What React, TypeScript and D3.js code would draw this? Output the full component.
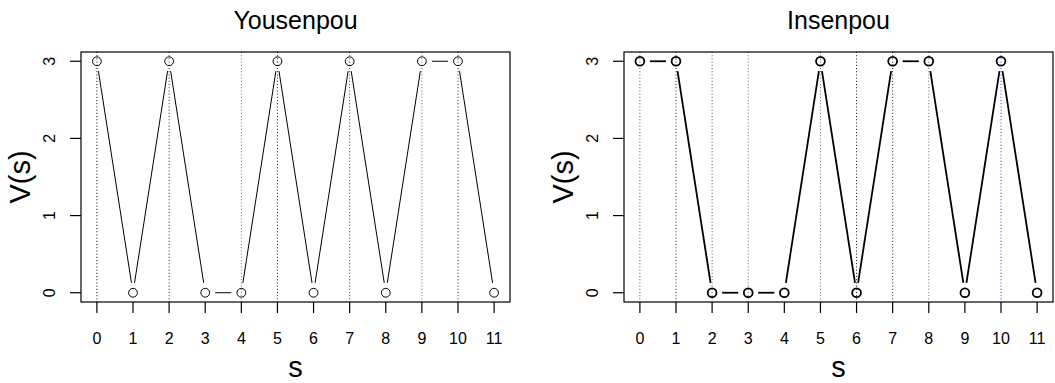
import React from "react";
import * as d3 from "d3";

// State indices and value function for each policy
const states = [0, 1, 2, 3, 4, 5, 6, 7, 8, 9, 10, 11];
const yousenpouValues = [3, 0, 3, 0, 0, 3, 0, 3, 0, 3, 3, 0];
const insenpouValues = [3, 3, 0, 0, 0, 3, 0, 3, 3, 0, 3, 0];
const yTicks = [0, 1, 2, 3];

// Dotted reference verticals per panel
const yousenpouGuides = [0, 2, 4, 5, 7, 9, 10];
const yousenpouGuideColors = ["#000", "#222", "#666", "#111", "#333", "#666", "#222"];
const insenpouGuides = [0, 1, 2, 3, 5, 6, 7, 8, 10];
const insenpouGuideColors = ["#555", "#111", "#555", "#666", "#666", "#111", "#111", "#666", "#3333ff"];

const W = 1055;
const H = 383;
const FONT = "'Liberation Sans', Arial, Helvetica, sans-serif";

type PanelProps = {
  title: string;
  values: number[];
  guides: number[];
  guideColors: string[];
  left: number;
  right: number;
  lw: number;
};

function Panel({ title, values, guides, guideColors, left, right, lw }: PanelProps) {
  const top = 52;
  const bottom = 302;
  const x = d3.scaleLinear().domain([-0.44, 11.44]).range([left, right]);
  const y = d3.scaleLinear().domain([-0.12, 3.12]).range([bottom, top]);
  const gap = 10;
  const r = 4.4;
  const tick = 11;

  // type="b": segments between points, trimmed around each marker
  const segs: { x1: number; y1: number; x2: number; y2: number }[] = [];
  for (let i = 0; i < states.length - 1; i++) {
    const ax = x(states[i]);
    const ay = y(values[i]);
    const bx = x(states[i + 1]);
    const by = y(values[i + 1]);
    const len = Math.hypot(bx - ax, by - ay);
    if (len <= 2 * gap) continue;
    const ux = (bx - ax) / len;
    const uy = (by - ay) / len;
    segs.push({ x1: ax + ux * gap, y1: ay + uy * gap, x2: bx - ux * gap, y2: by - uy * gap });
  }

  const cx = (left + right) / 2;
  const cy = (top + bottom) / 2;

  return (
    <g>
      {guides.map((g, i) => (
        <line
          key={"g" + i}
          x1={x(g)}
          x2={x(g)}
          y1={top}
          y2={bottom}
          stroke={guideColors[i]}
          strokeWidth={1}
          strokeDasharray="1,2.2"
        />
      ))}
      {segs.map((s, i) => (
        <line key={"s" + i} x1={s.x1} y1={s.y1} x2={s.x2} y2={s.y2} stroke="#000" strokeWidth={lw} />
      ))}
      {states.map((s, i) => (
        <circle key={"c" + i} cx={x(s)} cy={y(values[i])} r={r} fill="none" stroke="#000" strokeWidth={lw} />
      ))}
      <rect x={left} y={top} width={right - left} height={bottom - top} fill="none" stroke="#000" strokeWidth={1.2} />
      {states.map((s) => (
        <g key={"xt" + s}>
          <line x1={x(s)} x2={x(s)} y1={bottom} y2={bottom + tick} stroke="#000" strokeWidth={1.2} />
          <text x={x(s)} y={344} textAnchor="middle" fontFamily={FONT} fontSize={16}>
            {s}
          </text>
        </g>
      ))}
      {yTicks.map((t) => (
        <g key={"yt" + t}>
          <line x1={left - tick} x2={left} y1={y(t)} y2={y(t)} stroke="#000" strokeWidth={1.2} />
          <text
            transform={`translate(${left - 26},${y(t)}) rotate(-90)`}
            textAnchor="middle"
            fontFamily={FONT}
            fontSize={16}
          >
            {t}
          </text>
        </g>
      ))}
      <text x={cx} y={29} textAnchor="middle" fontFamily={FONT} fontSize={25}>
        {title}
      </text>
      <text x={cx} y={377} textAnchor="middle" fontFamily={FONT} fontSize={29}>
        s
      </text>
      <text
        transform={`translate(${left - 51},${cy}) rotate(-90)`}
        textAnchor="middle"
        fontFamily={FONT}
        fontSize={29}
      >
        V(s)
      </text>
    </g>
  );
}

export default function App() {
  return (
    <svg
      width={W}
      height={H}
      style={{ position: "absolute", left: 0, top: 0, background: "#fff", display: "block" }}
    >
      <Panel
        title="Yousenpou"
        values={yousenpouValues}
        guides={yousenpouGuides}
        guideColors={yousenpouGuideColors}
        left={81}
        right={510}
        lw={1}
      />
      <Panel
        title="Insenpou"
        values={insenpouValues}
        guides={insenpouGuides}
        guideColors={insenpouGuideColors}
        left={624}
        right={1053}
        lw={1.8}
      />
    </svg>
  );
}
